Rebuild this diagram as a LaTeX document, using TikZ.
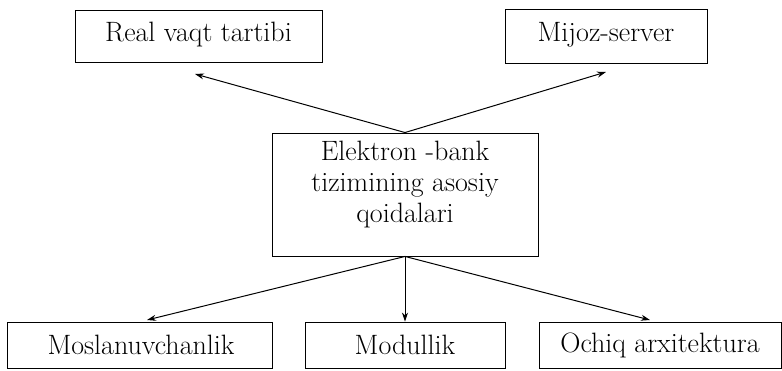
\documentclass[tikz,border=0pt]{standalone}
\usepackage{fontspec}
\usetikzlibrary{arrows.meta}
\begin{document}
\begin{tikzpicture}[x=1pt,y=-1pt,
  box/.style={draw, line width=0.9pt, inner sep=0pt},
  lbl/.style={font=\fontsize{28}{31}\selectfont, inner sep=0pt, align=center},
  arr/.style={line width=1pt, -{Stealth[length=9pt,width=6pt]}}]
\useasboundingbox (0,0) rectangle (782,371);
\node[box, minimum width=247pt, minimum height=52pt] (real) at (198.5,36) {};
\node[lbl] (realt) at (198.5,35) {Real vaqt tartibi};
\node[box, minimum width=202pt, minimum height=54pt] (mijoz) at (606,36) {};
\node[lbl] (mijozt) at (606,35) {Mijoz-server};
\node[box, minimum width=266pt, minimum height=123pt] (core) at (405,194.5) {};
\node[lbl] (coret) at (405,185) {Elektron -bank\\tizimining asosiy\\qoidalari};
\node[box, minimum width=265pt, minimum height=46pt] (mos) at (139.5,345) {};
\node[lbl] (most) at (141,345) {Moslanuvchanlik};
\node[box, minimum width=200pt, minimum height=46pt] (mod) at (405,345) {};
\node[lbl] (modt) at (405,345) {Modullik};
\node[box, minimum width=242pt, minimum height=46pt] (och) at (660,345) {};
\node[lbl] (ocht) at (660,345) {Ochiq arxitektura};
\coordinate (t1) at (195,74);
\coordinate (t2) at (606,72);
\coordinate (b1) at (147,320);
\coordinate (b3) at (650,320);
\draw[arr] (core.north) -- (t1);
\draw[arr] (core.north) -- (t2);
\draw[arr] (core.south) -- (b1);
\draw[arr] (core.south) -- (mod.north);
\draw[arr] (core.south) -- (b3);
\end{tikzpicture}
\end{document}
